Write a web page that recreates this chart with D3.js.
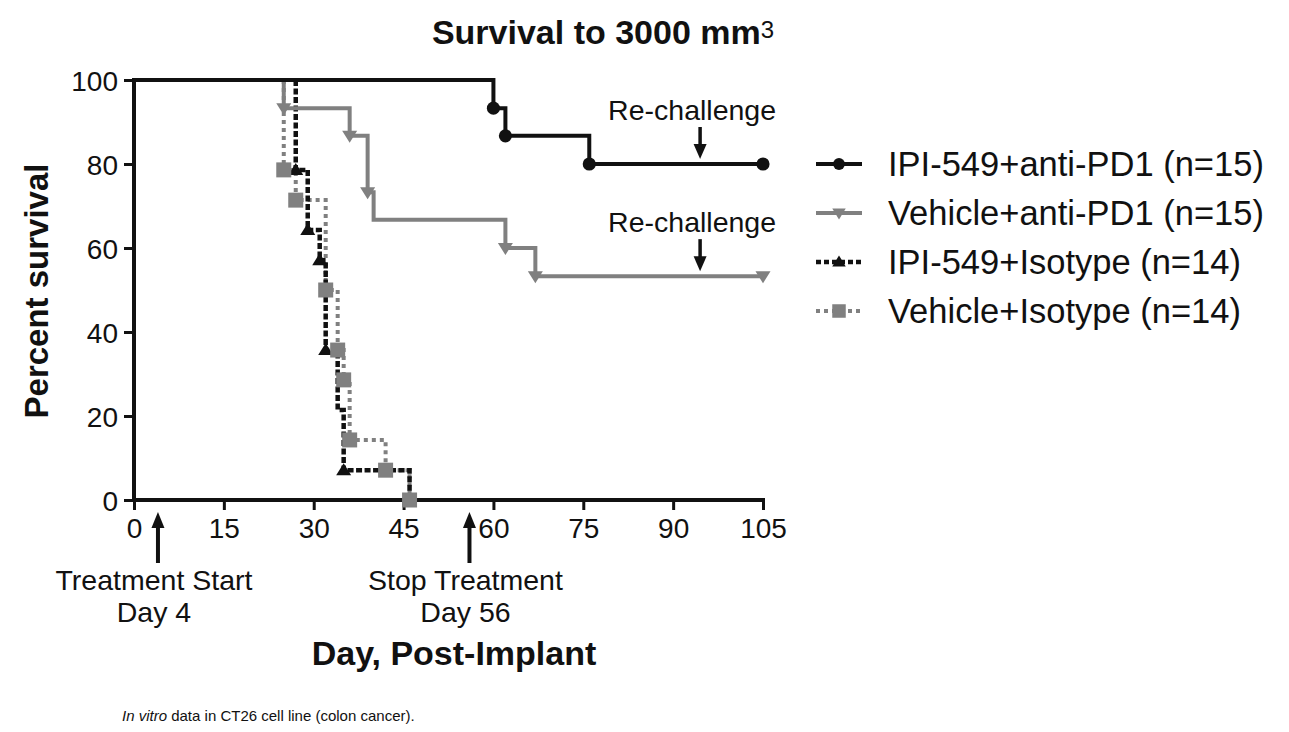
<!DOCTYPE html>
<html>
<head>
<meta charset="utf-8">
<script src="https://cdn.jsdelivr.net/npm/d3@7/dist/d3.min.js"></script>
<style>
  html, body { margin: 0; padding: 0; background: #fff; }
  svg { display: block; font-family: "Liberation Sans", Arial, Helvetica, sans-serif; }
</style>
</head>
<body>
<svg id="chart" width="1289" height="732"></svg>
<script>
// ---------------- data ----------------
const seriesNames = ["IPI-549+anti-PD1 (n=15)", "Vehicle+anti-PD1 (n=15)", "IPI-549+Isotype (n=14)", "Vehicle+Isotype (n=14)"];

// Kaplan-Meier steps: day of event and survival (%) after it
const ipiPd1Days = [60, 62, 76, 105];
const ipiPd1Surv = [93.3, 86.7, 80, 80];
const ipiPd1Marks = [60, 62, 76, 105];

const vehPd1Days = [25, 36, 39, 40, 62, 67, 105];
const vehPd1Surv = [93.3, 86.7, 73.3, 66.7, 60, 53.3, 53.3];
const vehPd1Marks = [25, 36, 39, 62, 67, 105];

const ipiIsoDays = [27, 29, 31, 32, 34, 35, 46];
const ipiIsoSurv = [78.6, 64.3, 57.1, 35.7, 21.4, 7.1, 0];
const ipiIsoMarks = [27, 29, 31, 32, 35, 46];

const vehIsoDays = [25, 27, 32, 34, 35, 36, 42, 46];
const vehIsoSurv = [78.6, 71.4, 50, 35.7, 28.6, 14.3, 7.1, 0];
const vehIsoMarks = [25, 27, 32, 34, 35, 36, 42, 46];

const xTicks = [0, 15, 30, 45, 60, 75, 90, 105];
const yTicks = [0, 20, 40, 60, 80, 100];

const treatmentMarks = [
  { day: 4, lines: ["Treatment Start", "Day 4"] },
  { day: 56, lines: ["Stop Treatment", "Day 56"] }
];
const rechallengeDay = 94.5;
const rechallengeLevels = [80, 53.3];

// ---------------- layout ----------------
const svg = d3.select("#chart");
const x = d3.scaleLinear().domain([0, 105]).range([134, 763]);
const y = d3.scaleLinear().domain([0, 100]).range([500, 80]);

const GRAY = "#808080";
const BLACK = "#111111";

// title
const title = svg.append("text")
  .attr("x", 603).attr("y", 44)
  .attr("text-anchor", "middle")
  .attr("font-size", 34).attr("font-weight", "bold").attr("fill", BLACK);
title.append("tspan").text("Survival to 3000 mm");
title.append("tspan").text("3").attr("font-size", 24).attr("font-weight", "normal").attr("dy", -6);

// axes
const yAxis = d3.axisLeft(y).tickValues(yTicks).tickSize(10).tickPadding(6);
const gy = svg.append("g").attr("transform", `translate(${x(0)},0)`).call(yAxis);
gy.select(".domain").attr("stroke", BLACK).attr("stroke-width", 4)
  .attr("d", `M0,${y(100) - 2}V${y(0) + 2}`);
gy.selectAll(".tick line").attr("stroke", BLACK).attr("stroke-width", 3);
gy.selectAll(".tick text").attr("font-size", 28).attr("fill", BLACK)
  .attr("font-family", "Liberation Sans, Arial, sans-serif").attr("dy", "0.36em");

const xAxis = d3.axisBottom(x).tickValues(xTicks).tickSize(10).tickPadding(8);
const gx = svg.append("g").attr("transform", `translate(0,${y(0)})`).call(xAxis);
gx.select(".domain").attr("stroke", BLACK).attr("stroke-width", 4)
  .attr("d", `M${x(0) - 2},0H${x(105) + 2}`);
gx.selectAll(".tick line").attr("stroke", BLACK).attr("stroke-width", 3);
gx.selectAll(".tick text").attr("font-size", 28).attr("fill", BLACK)
  .attr("font-family", "Liberation Sans, Arial, sans-serif").attr("dy", "0.72em");

// axis titles
svg.append("text")
  .attr("transform", `translate(48,291) rotate(-90)`)
  .attr("text-anchor", "middle")
  .attr("font-size", 33).attr("font-weight", "bold").attr("fill", BLACK)
  .text("Percent survival");

svg.append("text")
  .attr("x", 454).attr("y", 665)
  .attr("text-anchor", "middle")
  .attr("font-size", 34).attr("font-weight", "bold").attr("fill", BLACK)
  .text("Day, Post-Implant");

// treatment annotations below axis
function upArrow(g, cx, tip, base) {
  g.append("line").attr("x1", cx).attr("x2", cx).attr("y1", tip + 12).attr("y2", base)
    .attr("stroke", BLACK).attr("stroke-width", 4);
  g.append("path").attr("d", `M${cx},${tip}L${cx - 6.5},${tip + 16}L${cx + 6.5},${tip + 16}Z`).attr("fill", BLACK);
}
function downArrow(g, cx, tip, base) {
  g.append("line").attr("x1", cx).attr("x2", cx).attr("y1", base).attr("y2", tip - 12)
    .attr("stroke", BLACK).attr("stroke-width", 3.5);
  g.append("path").attr("d", `M${cx},${tip}L${cx - 6.5},${tip - 15}L${cx + 6.5},${tip - 15}Z`).attr("fill", BLACK);
}

const ann = svg.append("g");
treatmentMarks.forEach(t => {
  upArrow(ann, x(t.day), 512, 563);
  t.lines.forEach((ln, i) => {
    ann.append("text").attr("x", x(t.day) - 4).attr("y", 590 + i * 32)
      .attr("text-anchor", "middle").attr("font-size", 28.5).attr("fill", BLACK).text(ln);
  });
});

rechallengeLevels.forEach(lv => {
  const tip = y(lv) - 5;
  downArrow(ann, x(rechallengeDay), tip, tip - 32);
  ann.append("text").attr("x", x(rechallengeDay) - 8).attr("y", tip - 39)
    .attr("text-anchor", "middle").attr("font-size", 28.5).attr("fill", BLACK).text("Re-challenge");
});

// ---------------- series ----------------
// the top curve starts at day 0; the others start where they leave 100% (hidden under it before)
function toPoints(days, surv, fromZero) {
  const start = fromZero ? [[0, 100]] : [[days[0], 100]];
  return start.concat(days.map((d, i) => [d, surv[i]]));
}
const stepLine = d3.line().x(d => x(d[0])).y(d => y(d[1])).curve(d3.curveStepAfter);

function triPath(cx, cy, down, w, h) {
  if (down) return `M${cx - w / 2},${cy - h / 2}L${cx + w / 2},${cy - h / 2}L${cx},${cy + h / 2}Z`;
  return `M${cx - w / 2},${cy + h / 2}L${cx + w / 2},${cy + h / 2}L${cx},${cy - h / 2}Z`;
}

const series = [
  { name: seriesNames[0], days: ipiPd1Days, surv: ipiPd1Surv, marks: ipiPd1Marks, color: BLACK, width: 4, dash: null, sym: "circle" },
  { name: seriesNames[1], days: vehPd1Days, surv: vehPd1Surv, marks: vehPd1Marks, color: GRAY, width: 4, dash: null, sym: "down" },
  { name: seriesNames[2], days: ipiIsoDays, surv: ipiIsoSurv, marks: ipiIsoMarks, color: BLACK, width: 4.5, dash: "6,2.5", sym: "up" },
  { name: seriesNames[3], days: vehIsoDays, surv: vehIsoSurv, marks: vehIsoMarks, color: GRAY, width: 4, dash: "4,4", sym: "square" }
];

function drawSymbol(g, s, cx, cy, scale) {
  const k = scale || 1;
  if (s.sym === "circle") {
    g.append("path").attr("d", d3.symbol().type(d3.symbolCircle).size(135 * k * k)())
      .attr("transform", `translate(${cx},${cy})`).attr("fill", s.color);
  } else if (s.sym === "down") {
    g.append("path").attr("d", triPath(cx, cy + 1, true, 15 * k, 12 * k)).attr("fill", s.color);
  } else if (s.sym === "up") {
    g.append("path").attr("d", triPath(cx, cy - 1, false, 15 * k, 12 * k)).attr("fill", s.color);
  } else {
    const a = 15 * k;
    g.append("rect").attr("x", cx - a / 2).attr("y", cy - a / 2).attr("width", a).attr("height", a).attr("fill", s.color);
  }
}

const linesG = svg.append("g");
series.slice().reverse().forEach((s, j) => {
  linesG.append("path")
    .attr("d", stepLine(toPoints(s.days, s.surv, s === series[0])))
    .attr("fill", "none").attr("stroke", s.color).attr("stroke-width", s.width)
    .attr("stroke-dasharray", s.dash).attr("stroke-linejoin", "miter").attr("stroke-linecap", "butt");
});

const marksG = svg.append("g");
series.forEach(s => {
  s.marks.forEach(d => {
    const i = s.days.indexOf(d);
    drawSymbol(marksG, s, x(d), y(s.surv[i]));
  });
});

// ---------------- legend ----------------
const leg = svg.append("g");
series.forEach((s, i) => {
  const cy = 164 + i * 49;
  leg.append("line").attr("x1", 816).attr("x2", 862).attr("y1", cy).attr("y2", cy)
    .attr("stroke", s.color).attr("stroke-width", s.width)
    .attr("stroke-dasharray", s.dash ? (i === 2 ? "5,3" : "4,4") : null);
  drawSymbol(leg, s, 839, cy, 0.9);
  leg.append("text").attr("x", 888).attr("y", cy + 12)
    .attr("font-size", 34.5).attr("fill", BLACK).text(s.name);
});

// footnote
const foot = svg.append("text").attr("x", 122).attr("y", 721).attr("font-size", 15).attr("fill", BLACK);
foot.append("tspan").attr("font-style", "italic").text("In vitro");
foot.append("tspan").text(" data in CT26 cell line (colon cancer).");
</script>
</body>
</html>
